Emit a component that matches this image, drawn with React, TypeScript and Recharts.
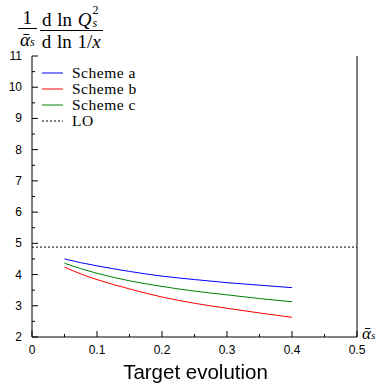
import React from "react";
import {
  LineChart,
  Line,
  XAxis,
  YAxis,
  ReferenceLine,
} from "recharts";

// alpha_s values where the curves were evaluated
const alphaS = [0.05, 0.075, 0.1, 0.15, 0.2, 0.25, 0.3, 0.35, 0.4];
const schemeA = [4.5, 4.38, 4.28, 4.1, 3.95, 3.84, 3.74, 3.66, 3.58];
const schemeB = [4.24, 4.02, 3.84, 3.54, 3.28, 3.08, 2.92, 2.77, 2.63];
const schemeC = [4.36, 4.19, 4.04, 3.8, 3.62, 3.47, 3.35, 3.23, 3.13];
const loValue = 4.88;

const xTicks = [0, 0.05, 0.1, 0.15, 0.2, 0.25, 0.3, 0.35, 0.4, 0.45, 0.5];
const xLabels = ["0", "", "0.1", "", "0.2", "", "0.3", "", "0.4", "", "0.5"];
const yTicks = [2, 2.5, 3, 3.5, 4, 4.5, 5, 5.5, 6, 6.5, 7, 7.5, 8, 8.5, 9, 9.5, 10, 10.5, 11];

const series = [
  { key: "a", name: "Scheme a", color: "#0000ff", values: schemeA },
  { key: "b", name: "Scheme b", color: "#ff0000", values: schemeB },
  { key: "c", name: "Scheme c", color: "#008000", values: schemeC },
];

const data = alphaS.map((x, i) => ({
  x,
  a: schemeA[i],
  b: schemeB[i],
  c: schemeC[i],
}));

const tickFont = "'Liberation Sans', Arial, sans-serif";
const serif = "'Liberation Serif', 'DejaVu Serif', serif";

function xLabelFor(v: number) {
  const i = xTicks.findIndex((t) => Math.abs(t - v) < 1e-9);
  return i >= 0 ? xLabels[i] : "";
}

function isInt(v: number) {
  return Math.abs(v - Math.round(v)) < 1e-9;
}

const BottomTick = (props: any) => {
  const { x, y, payload } = props;
  const label = xLabelFor(payload.value);
  const len = label ? 6 : 3;
  return (
    <g>
      <line x1={x} y1={y} x2={x} y2={y - len} stroke="#000" />
      {label && (
        <text x={x} y={y + 17} textAnchor="middle" fontSize={12} fontFamily={tickFont} fill="#000">
          {label}
        </text>
      )}
    </g>
  );
};

const TopTick = (props: any) => {
  const { x, y, payload } = props;
  const len = xLabelFor(payload.value) ? 6 : 3;
  return <line x1={x} y1={y} x2={x} y2={y + len} stroke="#000" />;
};

const LeftTick = (props: any) => {
  const { x, y, payload } = props;
  const major = isInt(payload.value);
  return (
    <g>
      <line x1={x} y1={y} x2={x + (major ? 6 : 3)} y2={y} stroke="#000" />
      {major && (
        <text x={x - 10} y={y + 4} textAnchor="end" fontSize={12} fontFamily={tickFont} fill="#000">
          {payload.value}
        </text>
      )}
    </g>
  );
};

const RightTick = (props: any) => {
  const { x, y, payload } = props;
  const major = isInt(payload.value);
  return <line x1={x} y1={y} x2={x - (major ? 6 : 3)} y2={y} stroke="#000" />;
};

const LegendBox = () => (
  <div
    style={{
      position: "absolute",
      left: 40,
      top: 65,
      fontFamily: serif,
      fontSize: 15.5,
      letterSpacing: 0.5,
      lineHeight: "16px",
      color: "#000",
    }}
  >
    {series.map((s) => (
      <div key={s.key} style={{ display: "flex", alignItems: "center", height: 16 }}>
        <svg width={32} height={16}>
          <line x1={2} y1={8} x2={23} y2={8} stroke={s.color} strokeWidth={1} />
        </svg>
        <span>{s.name}</span>
      </div>
    ))}
    <div style={{ display: "flex", alignItems: "center", height: 16 }}>
      <svg width={32} height={16}>
        <line x1={2} y1={8} x2={23} y2={8} stroke="#000" strokeDasharray="2 2" />
      </svg>
      <span>LO</span>
    </div>
  </div>
);

export default function App() {
  return (
    <div
      style={{
        position: "fixed",
        left: 0,
        top: 0,
        width: 380,
        height: 385,
        background: "#fff",
      }}
    >
      {/* y-axis title: 1/abar_s dlnQ_s^2 / dln1/x */}
      <div
        style={{
          position: "absolute",
          left: 18,
          top: 7,
          fontFamily: serif,
          fontSize: 19,
          wordSpacing: 1,
          display: "flex",
          alignItems: "center",
        }}
      >
        <div style={{ display: "inline-flex", flexDirection: "column", alignItems: "center", marginRight: 3 }}>
          <span style={{ padding: "0 2px", lineHeight: "21px" }}>1</span>
          <span style={{ borderTop: "1px solid #000", padding: "0 2px", lineHeight: "21px" }}>
            <i>{"\u1FB1"}</i>
            <i style={{ fontSize: 12 }}>s</i>
          </span>
        </div>
        <div style={{ display: "inline-flex", flexDirection: "column", alignItems: "center" }}>
          <span style={{ padding: "0 2px", lineHeight: "21px", whiteSpace: "nowrap" }}>
            d ln <i>Q</i>
            <span style={{ position: "relative", display: "inline-block", width: 9, height: 10, fontSize: 12 }}>
              <span style={{ position: "absolute", left: 1, top: -10, lineHeight: "9px" }}>2</span>
              <i style={{ position: "absolute", left: 1, top: 3, lineHeight: "9px" }}>s</i>
            </span>
          </span>
          <span style={{ borderTop: "1px solid #000", padding: "0 2px", lineHeight: "21px", whiteSpace: "nowrap" }}>
            d ln 1/<i>x</i>
          </span>
        </div>
      </div>

      <LineChart
        width={380}
        height={385}
        data={data}
        margin={{ top: 56, right: 0, left: 0, bottom: 28 }}
      >
        <XAxis
          xAxisId="bottom"
          dataKey="x"
          type="number"
          domain={[0, 0.5]}
          ticks={xTicks}
          interval={0}
          tickSize={0}
          tickMargin={0}
          tickLine={false}
          axisLine={{ stroke: "#000" }}
          tick={(p: any) => <BottomTick {...p} />}
          height={20}
        />
        <XAxis
          xAxisId="top"
          orientation="top"
          dataKey="x"
          type="number"
          domain={[0, 0.5]}
          ticks={xTicks}
          interval={0}
          tickSize={0}
          tickMargin={0}
          tickLine={false}
          axisLine={{ stroke: "#000" }}
          tick={(p: any) => <TopTick {...p} />}
          height={0}
        />
        <YAxis
          yAxisId="left"
          type="number"
          domain={[2, 11]}
          ticks={yTicks}
          interval={0}
          tickSize={0}
          tickMargin={0}
          tickLine={false}
          axisLine={{ stroke: "#000" }}
          tick={(p: any) => <LeftTick {...p} />}
          width={32}
        />
        <YAxis
          yAxisId="right"
          orientation="right"
          type="number"
          domain={[2, 11]}
          ticks={yTicks}
          interval={0}
          tickSize={0}
          tickMargin={0}
          tickLine={false}
          axisLine={{ stroke: "#000" }}
          tick={(p: any) => <RightTick {...p} />}
          width={23}
        />
        <ReferenceLine
          xAxisId="bottom"
          yAxisId="left"
          y={loValue}
          stroke="#000"
          strokeDasharray="2 2"
        />
        {series.map((s) => (
          <Line
            key={s.key}
            xAxisId="bottom"
            yAxisId="left"
            type="monotone"
            dataKey={s.key}
            name={s.name}
            stroke={s.color}
            strokeWidth={1}
            dot={false}
            isAnimationActive={false}
          />
        ))}
      </LineChart>

      <LegendBox />

      <div style={{ position: "absolute", left: 362, top: 325, fontFamily: serif, fontSize: 17, lineHeight: "18px" }}>
        <i>{"\u1FB1"}</i>
        <i style={{ fontSize: 11 }}>s</i>
      </div>

      <div
        style={{
          position: "absolute",
          left: 0,
          width: 391,
          top: 360,
          textAlign: "center",
          fontFamily: tickFont,
          fontSize: 20.5,
        }}
      >
        Target evolution
      </div>
    </div>
  );
}
